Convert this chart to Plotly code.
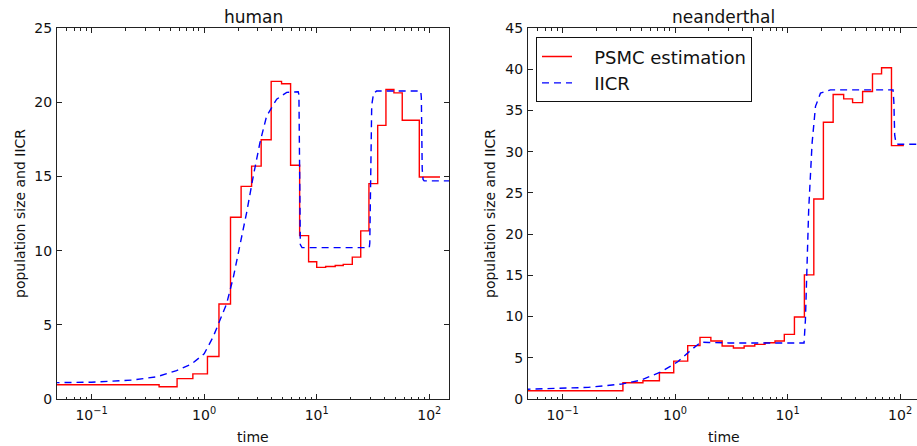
import plotly.graph_objects as go

W, H = 917, 446

# ---------------- data ----------------
human_psmc_time = [0.045, 0.398, 0.575, 0.794, 1.07, 1.354, 1.715, 2.13, 2.64, 3.21, 3.94, 4.87,
                   5.86, 7.05, 8.47, 10.0, 12.0, 14.6, 17.2, 20.7, 24.6, 29.1, 34.8, 41.2, 48.5,
                   57.5, 81.5, 124.5]
human_psmc_size = [0.96, 0.83, 1.37, 1.69, 2.86, 6.40, 12.25, 14.33, 15.69, 17.47, 21.40, 21.24,
                   15.75, 11.01, 9.25, 8.87, 8.93, 9.0, 9.07, 9.56, 11.33, 14.51, 18.44, 20.86,
                   20.63, 18.78, 14.96, 14.96]

human_iicr_time = [0.045, 0.1, 0.234, 0.38, 0.569, 0.773, 1.0, 1.2, 1.38, 1.585, 1.82, 2.07, 2.38,
                   2.73, 3.13, 3.59, 4.41, 5.41, 6.85, 6.95, 7.05, 7.15, 7.4, 29.3, 29.6, 30.2,
                   30.8, 32.0, 34.0, 84.0, 85.0, 86.5, 88.0, 90.0, 160.0]
human_iicr_size = [1.1, 1.13, 1.28, 1.5, 1.91, 2.36, 3.04, 4.17, 5.3, 6.43, 8.23, 10.27, 12.53,
                   15.0, 17.27, 19.07, 20.2, 20.66, 20.7, 20.5, 12.0, 10.4, 10.2, 10.2, 10.5, 16.0,
                   19.8, 20.6, 20.75, 20.75, 20.3, 15.5, 14.8, 14.7, 14.7]

nean_psmc_time = [0.045, 0.344, 0.518, 0.726, 0.973, 1.295, 1.665, 2.08, 2.62, 3.3, 4.11, 5.11,
                  6.3, 7.73, 9.35, 11.5, 14.1, 17.1, 20.8, 25.4, 31.5, 37.8, 46.4, 56.8, 68.4,
                  83.8, 108.0]
nean_psmc_size = [1.0, 1.97, 2.21, 3.19, 4.6, 6.47, 7.48, 7.03, 6.43, 6.18, 6.43, 6.63, 6.83,
                  7.03, 7.84, 9.95, 15.05, 24.25, 33.56, 36.93, 36.4, 35.95, 37.29, 39.44, 40.17,
                  30.73, 30.73]

nean_iicr_time = [0.045, 0.169, 0.333, 0.5, 0.752, 1.057, 1.387, 1.7, 2.0, 3.0, 14.0, 14.4, 15.4,
                  16.5, 17.7, 19.6, 24.0, 86.5, 88.0, 89.5, 92.0, 96.0, 160.0]
nean_iicr_size = [1.17, 1.41, 1.81, 2.3, 3.3, 4.52, 5.94, 6.9, 6.85, 6.8, 6.8, 9.6, 23.0, 31.0,
                  35.5, 37.1, 37.5, 37.5, 36.0, 32.0, 31.0, 30.9, 30.9]

x_tick_vals = [0.1, 1, 10, 100]
x_tick_text = ["10<sup>−1</sup>", "10<sup>0</sup>", "10<sup>1</sup>", "10<sup>2</sup>"]
x_minor_vals = [k * 10.0 ** e for e in range(-2, 3) for k in range(2, 10)]
human_y_ticks = [0, 5, 10, 15, 20, 25]
nean_y_ticks = [0, 5, 10, 15, 20, 25, 30, 35, 40, 45]

titles = ["human", "neanderthal"]
x_title = "time"
y_title = "population size and IICR"
series_names = ["PSMC estimation", "IICR"]

# ---------------- styling ----------------
FONT = "DejaVu Sans"
RED = "#ff0000"
BLUE = "#0000ff"
AX = "#222222"
DASH = "7px,5px"
PAD = "\u00a0\u00a0\u00a0"   # visual indent of legend labels


def fx(p):
    return p / W


def fy(p):
    return 1 - p / H


fig = go.Figure()

fig.add_trace(go.Scatter(x=human_psmc_time, y=human_psmc_size, mode="lines", line_shape="hv",
                         line=dict(color=RED, width=1.4), name=series_names[0],
                         xaxis="x", yaxis="y", showlegend=False))
fig.add_trace(go.Scatter(x=human_iicr_time, y=human_iicr_size, mode="lines",
                         line=dict(color=BLUE, width=1.4, dash=DASH), name=series_names[1],
                         xaxis="x", yaxis="y", showlegend=False))
fig.add_trace(go.Scatter(x=nean_psmc_time, y=nean_psmc_size, mode="lines", line_shape="hv",
                         line=dict(color=RED, width=1.4), name=PAD + series_names[0],
                         xaxis="x2", yaxis="y2", legendgroup="a"))
fig.add_trace(go.Scatter(x=nean_iicr_time, y=nean_iicr_size, mode="lines",
                         line=dict(color=BLUE, width=1.4, dash=DASH), name=PAD + series_names[1],
                         xaxis="x2", yaxis="y2", legendgroup="b"))

ydom = [fy(399), fy(28)]
common_x = dict(type="log", tickmode="array", tickvals=x_tick_vals, ticktext=x_tick_text,
                ticks="inside", ticklen=5, tickwidth=1, tickcolor=AX, automargin=False,
                showline=True, linecolor=AX, linewidth=1, showgrid=False, zeroline=False,
                tickfont=dict(family=FONT, size=14, color="#111111"),
                minor=dict(tickmode="array", tickvals=x_minor_vals, ticks="inside", ticklen=2.5,
                           tickcolor=AX, showgrid=False),
                ticklabelstandoff=3)
common_y = dict(tickmode="array", ticks="inside", ticklen=5, tickwidth=1, tickcolor=AX,
                showline=True, linecolor=AX, linewidth=1, showgrid=False, zeroline=False,
                automargin=False,
                tickfont=dict(family=FONT, size=14, color="#111111"), ticklabelstandoff=1)

fig.update_layout(
    xaxis=dict(common_x, domain=[fx(57), fx(449)], range=[-1.307, 2.175], anchor="y",
               mirror="ticks"),
    yaxis=dict(common_y, domain=ydom, range=[0, 25], tickvals=human_y_ticks, anchor="x",
               mirror="ticks"),
    xaxis2=dict(common_x, domain=[fx(528), 1.0], range=[-1.307, 2.150], anchor="y2",
                mirror="ticks"),
    yaxis2=dict(common_y, domain=ydom, range=[0, 45], tickvals=nean_y_ticks, anchor="x2",
                mirror=False),
    yaxis3=dict(overlaying="y2", side="right", anchor="x2", range=[0, 45], tickmode="array",
                tickvals=nean_y_ticks, ticks="inside", ticklen=5, tickcolor=AX,
                automargin=False,
                showline=False, showgrid=False, zeroline=False, showticklabels=False),
)

annotations = [
    dict(text=titles[0], x=fx(253), y=fy(17), font=dict(size=17, family=FONT, color="#111")),
    dict(text=titles[1], x=fx(723.7), y=fy(17), font=dict(size=17, family=FONT, color="#111")),
    dict(text=x_title, x=fx(253), y=fy(437), font=dict(size=14, family=FONT, color="#111")),
    dict(text=x_title, x=fx(723.7), y=fy(437), font=dict(size=14, family=FONT, color="#111")),
    dict(text=y_title, x=fx(20), y=fy(214), textangle=-90,
         font=dict(size=14, family=FONT, color="#111")),
    dict(text=y_title, x=fx(490), y=fy(214), textangle=-90,
         font=dict(size=14, family=FONT, color="#111")),
]
for a in annotations:
    a.update(xref="paper", yref="paper", xanchor="center", yanchor="middle", showarrow=False)

fig.update_layout(
    width=W, height=H,
    margin=dict(l=0, r=0, t=0, b=0, autoexpand=False),
    paper_bgcolor="white", plot_bgcolor="white",
    font=dict(family=FONT, color="#111111"),
    annotations=annotations,
    showlegend=True,
    legend=dict(x=fx(536), y=fy(37.3), xanchor="left", yanchor="top",
                bgcolor="white", bordercolor="#111111", borderwidth=1,
                font=dict(size=18, family=FONT, color="#111111"),
                tracegroupgap=3, traceorder="normal"),
)

fig.write_html("out.html", config={"displayModeBar": False},
               post_script="document.body.style.margin='0';document.body.style.overflow='hidden';")
